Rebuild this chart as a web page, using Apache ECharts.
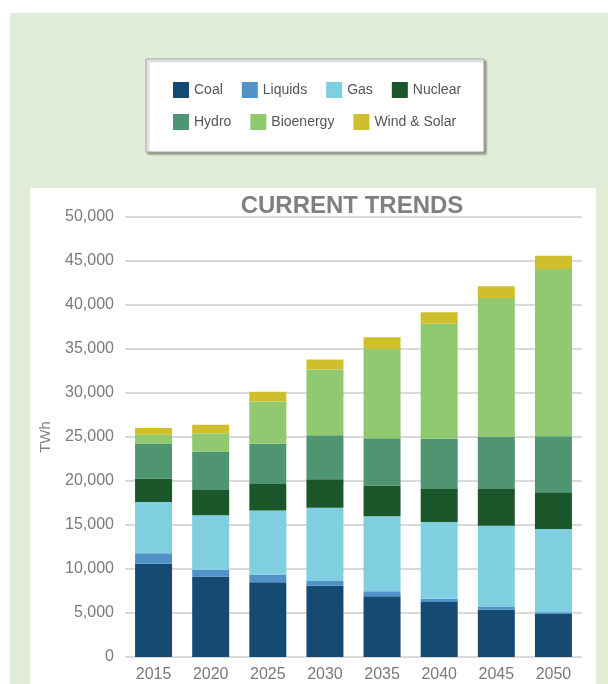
<!DOCTYPE html>
<html>
<head>
<meta charset="utf-8">
<title>Current Trends – Electricity Generation</title>
<script src="https://cdn.jsdelivr.net/npm/echarts@6/dist/echarts.min.js"></script>
<style>
  html, body { margin: 0; padding: 0; background: #ffffff; }
  #chart { width: 608px; height: 684px; }
</style>
</head>
<body>
<div id="chart"></div>
<script>
// Years on the category axis
const years = ['2015', '2020', '2025', '2030', '2035', '2040', '2045', '2050'];

// Generation by source, TWh
const coal      = [10600, 9150, 8500, 8100, 6900, 6250, 5380, 4880];
const liquids   = [1200,  770,  850,  550,  560,  380,  370,  200];
const gas       = [5800,  6200, 7300, 8300, 8530, 8700, 9170, 9470];
const nuclear   = [2650,  2870, 3000, 3260, 3490, 3750, 4170, 4160];
const hydro     = [4000,  4370, 4580, 5000, 5370, 5750, 5980, 6370];
const bioenergy = [1000,  2080, 4800, 7470, 10160, 13040, 15730, 19020];
const windSolar = [770,   950,  1100, 1130, 1320, 1320, 1320, 1510];

// Value axis ticks
const yMin = 0;
const yMax = 50000;
const yStep = 5000;

const seriesDefs = [
  { name: 'Coal',         data: coal,      color: '#154a72' },
  { name: 'Liquids',      data: liquids,   color: '#4f93c9' },
  { name: 'Gas',          data: gas,       color: '#7fcfe0' },
  { name: 'Nuclear',      data: nuclear,   color: '#1c562b' },
  { name: 'Hydro',        data: hydro,     color: '#509571' },
  { name: 'Bioenergy',    data: bioenergy, color: '#90c96f' },
  { name: 'Wind & Solar', data: windSolar, color: '#d0bf2c' }
];

const chart = echarts.init(document.getElementById('chart'), null, { renderer: 'canvas' });

const fontFamily = 'Liberation Sans, Arial, sans-serif';
const legendText = { color: '#555555', fontSize: 14, fontFamily };

const option = {
  backgroundColor: '#ffffff',
  animation: false,
  graphic: [
    // green page backdrop
    { type: 'rect', z: -10, shape: { x: 10, y: 13, width: 598, height: 671 }, style: { fill: '#e1edd7' }, silent: true },
    // legend card
    { type: 'rect', z: -5, shape: { x: 146, y: 59, width: 338, height: 93 },
      style: { fill: '#ffffff', stroke: '#a0a0a0', lineWidth: 1,
               shadowBlur: 2, shadowOffsetX: 2, shadowOffsetY: 2, shadowColor: 'rgba(0,0,0,0.35)' }, silent: true },
    // chart panel
    { type: 'rect', z: -5, shape: { x: 30, y: 188, width: 566, height: 500 }, style: { fill: '#ffffff' }, silent: true }
  ],
  title: {
    text: 'CURRENT TRENDS',
    left: 352,
    textAlign: 'center',
    top: 194,
    padding: 0,
    textStyle: { color: '#808080', fontSize: 24, fontWeight: 'bold', fontFamily }
  },
  legend: [
    {
      data: ['Coal', 'Liquids', 'Gas', 'Nuclear'],
      left: 173, top: 82, orient: 'horizontal', padding: 0,
      itemWidth: 16, itemHeight: 16, itemGap: 19, icon: 'rect',
      textStyle: legendText, selectedMode: false
    },
    {
      data: ['Hydro', 'Bioenergy', 'Wind & Solar'],
      left: 173, top: 114, orient: 'horizontal', padding: 0,
      itemWidth: 16, itemHeight: 16, itemGap: 19, icon: 'rect',
      textStyle: legendText, selectedMode: false
    }
  ],
  grid: { left: 125, right: 26, top: 217, bottom: 27, containLabel: false },
  xAxis: {
    type: 'category',
    data: years,
    axisLine: { show: false },
    axisTick: { show: false },
    axisLabel: { color: '#7a7a7a', fontSize: 16, margin: 10, fontFamily }
  },
  yAxis: {
    type: 'value',
    min: yMin, max: yMax, interval: yStep,
    name: 'TWh',
    nameLocation: 'middle',
    nameRotate: 90,
    nameGap: 72,
    nameTextStyle: { color: '#808080', fontSize: 15, fontFamily },
    axisLine: { show: false },
    axisTick: { show: false },
    splitLine: { show: true, lineStyle: { color: '#dadada', width: 2 } },
    axisLabel: {
      color: '#7a7a7a', fontSize: 16, margin: 11, fontFamily,
      formatter: v => v.toLocaleString('en-US')
    }
  },
  series: seriesDefs.map(s => ({
    name: s.name,
    type: 'bar',
    stack: 'total',
    barWidth: 37,
    data: s.data,
    itemStyle: { color: s.color },
    emphasis: { disabled: true }
  }))
};

chart.setOption(option);
</script>
</body>
</html>
